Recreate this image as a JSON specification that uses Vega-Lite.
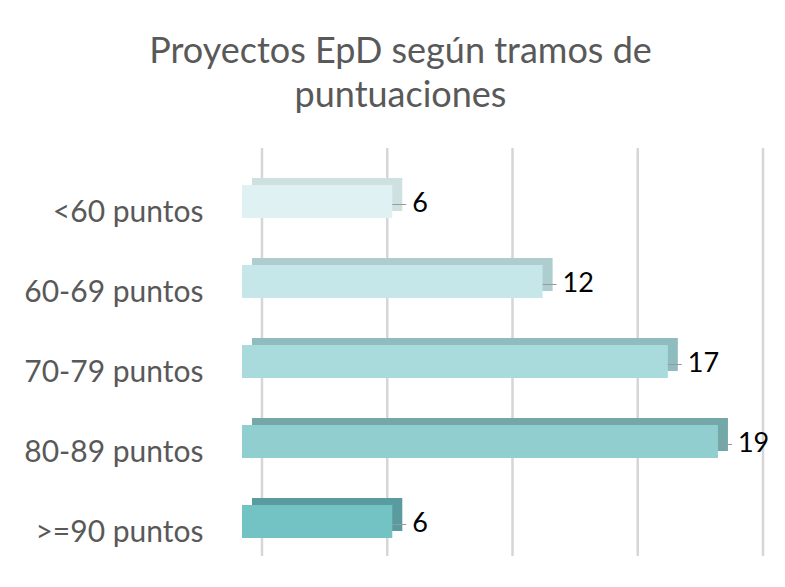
{
  "$schema": "https://vega.github.io/schema/vega-lite/v6.json",
  "width": 501,
  "height": 408,
  "autosize": {"type": "none"},
  "padding": {"left": 242, "top": 148, "right": 42, "bottom": 31},
  "background": "white",
  "config": {"view": {"stroke": null}, "font": "Lato"},
  "title": {
    "text": ["Proyectos EpD según tramos de", "puntuaciones"],
    "fontSize": 36,
    "font": "Lato",
    "fontWeight": "normal",
    "color": "#595959",
    "anchor": "middle",
    "frame": "group",
    "dx": -92,
    "offset": 32,
    "lineHeight": 44
  },
  "datasets": {
    "bars": [
      {"cat": "<60 puntos", "v": 6},
      {"cat": "60-69 puntos", "v": 12},
      {"cat": "70-79 puntos", "v": 17},
      {"cat": "80-89 puntos", "v": 19},
      {"cat": ">=90 puntos", "v": 6}
    ],
    "grid": [{"g": 0}, {"g": 5}, {"g": 10}, {"g": 15}, {"g": 20}]
  },
  "layer": [
    {
      "data": {"name": "grid"},
      "mark": {"type": "rule", "xOffset": 20, "color": "#d6d6d6", "strokeWidth": 2.5},
      "encoding": {
        "x": {"field": "g", "type": "quantitative", "scale": {"domain": [0, 20], "nice": false, "zero": true}, "axis": null}
      }
    },
    {
      "data": {"name": "bars"},
      "mark": {"type": "bar", "xOffset": 10, "x2Offset": 10, "yOffset": -7, "y2Offset": -7},
      "encoding": {
        "y": {"field": "cat", "type": "nominal", "sort": null,
          "scale": {"paddingInner": 0.5875, "paddingOuter": 0.34375, "align": 0.673},
          "axis": {"title": null, "domain": false, "ticks": false, "labelPadding": 39, "labelFontSize": 30, "labelColor": "#595959", "labelFont": "Lato", "labelOffset": 11}},
        "x": {"field": "v", "type": "quantitative", "scale": {"domain": [0, 20], "nice": false}, "axis": null},
        "color": {"field": "cat", "type": "nominal", "legend": null,
          "scale": {"domain": ["<60 puntos", "60-69 puntos", "70-79 puntos", "80-89 puntos", ">=90 puntos"],
                    "range": ["#cfe0e1", "#aecdcf", "#8fbcbe", "#74a7a8", "#5a9b9d"]}}
      }
    },
    {
      "data": {"name": "bars"},
      "mark": {"type": "bar"},
      "encoding": {
        "y": {"field": "cat", "type": "nominal", "sort": null},
        "x": {"field": "v", "type": "quantitative"},
        "fill": {"field": "cat", "type": "nominal", "legend": null,
          "scale": {"domain": ["<60 puntos", "60-69 puntos", "70-79 puntos", "80-89 puntos", ">=90 puntos"],
                    "range": ["#dff1f2", "#c6e7e9", "#a9dbdd", "#91ced0", "#73c2c4"]}}
      }
    },
    {
      "data": {"name": "bars"},
      "mark": {"type": "rule", "x2Offset": 14, "yOffset": 3, "color": "#9a9a9a", "strokeWidth": 1},
      "encoding": {
        "y": {"field": "cat", "type": "nominal", "sort": null},
        "x": {"field": "v", "type": "quantitative"},
        "x2": {"field": "v"}
      }
    },
    {
      "data": {"name": "bars"},
      "mark": {"type": "text", "dx": 20, "dy": 2, "align": "left", "baseline": "middle", "fontSize": 27, "font": "Lato", "color": "#000000"},
      "encoding": {
        "y": {"field": "cat", "type": "nominal", "sort": null},
        "x": {"field": "v", "type": "quantitative"},
        "text": {"field": "v", "type": "quantitative"}
      }
    }
  ],
  "resolve": {"scale": {"color": "independent", "fill": "independent"}}
}
